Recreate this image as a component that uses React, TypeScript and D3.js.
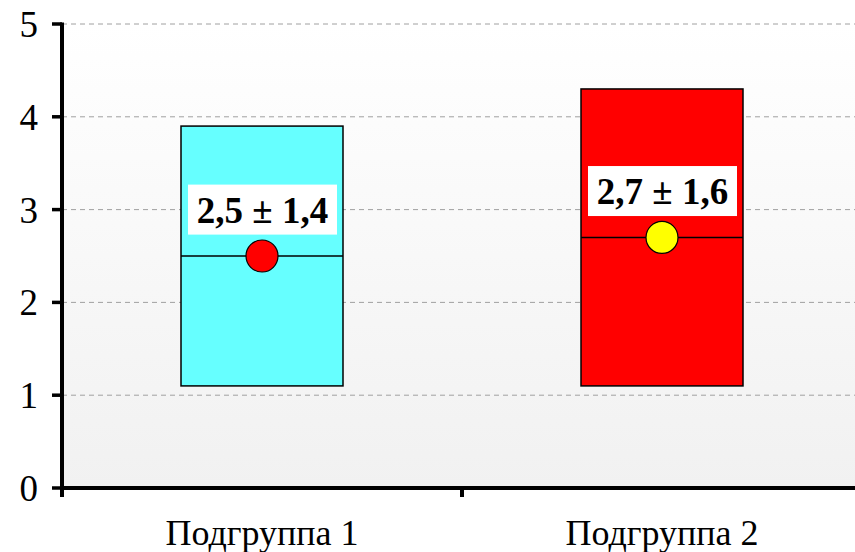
import React from "react";
import * as d3 from "d3";

// Subgroup summaries: mean ± standard deviation
const categories = ["Подгруппа 1", "Подгруппа 2"];
const means = [2.5, 2.7];
const deviations = [1.4, 1.6];
const boxColors = ["#66ffff", "#ff0000"];
const dotColors = ["#ff0000", "#ffff00"];
const yTicks = [0, 1, 2, 3, 4, 5];

const W = 855;
const H = 552;
const left = 62;
const right = 862;
const top = 24;
const bottom = 488;

const fmt = (v: number) => d3.format(".1f")(v).replace(".", ",");

export default function App() {
  const x = d3.scaleBand<string>().domain(categories).range([left, right]);
  const y = d3.scaleLinear().domain([0, 5]).range([bottom, top]);
  const boxW = x.bandwidth() * 0.405;
  const serif = "'Liberation Serif', 'Times New Roman', serif";

  return (
    <svg
      width={W}
      height={H}
      style={{ position: "absolute", left: 0, top: 0, fontFamily: serif }}
    >
      <defs>
        <linearGradient id="plotBg" x1="0" y1="0" x2="0" y2="1">
          <stop offset="0" stopColor="#ffffff" />
          <stop offset="1" stopColor="#f1f1f1" />
        </linearGradient>
      </defs>
      <rect x={left} y={top} width={right - left} height={bottom - top} fill="url(#plotBg)" />

      {/* horizontal grid */}
      {yTicks.slice(1).map((t) => (
        <line
          key={t}
          x1={left}
          x2={right}
          y1={y(t)}
          y2={y(t)}
          stroke="#a0a0a0"
          strokeWidth={1}
          strokeDasharray="5,4"
        />
      ))}

      {/* mean ± SD boxes */}
      {categories.map((c, i) => {
        const cx = (x(c) ?? 0) + x.bandwidth() / 2;
        const lo = means[i] - deviations[i];
        const hi = means[i] + deviations[i];
        const labelY = y(means[i] + 0.5);
        return (
          <g key={c}>
            <rect
              x={cx - boxW / 2}
              y={y(hi)}
              width={boxW}
              height={y(lo) - y(hi)}
              fill={boxColors[i]}
              stroke="#000"
              strokeWidth={1.5}
            />
            <line
              x1={cx - boxW / 2}
              x2={cx + boxW / 2}
              y1={y(means[i])}
              y2={y(means[i])}
              stroke="#000"
              strokeWidth={1.5}
            />
            <circle cx={cx} cy={y(means[i])} r={16} fill={dotColors[i]} stroke="#000" strokeWidth={1.2} />
            <rect x={cx - 74} y={labelY - 25} width={149} height={50} fill="#fff" />
            <text
              x={cx + 0.5}
              y={labelY}
              dy="0.35em"
              textAnchor="middle"
              style={{ fontSize: "37px", fontWeight: "bold" }}
            >
              {`${fmt(means[i])} ± ${fmt(deviations[i])}`}
            </text>
          </g>
        );
      })}

      {/* y axis */}
      <line x1={left} x2={left} y1={top - 1.5} y2={bottom + 9} stroke="#000" strokeWidth={4} />
      {yTicks.map((t) => (
        <g key={t}>
          <line x1={left - 10} x2={left} y1={y(t)} y2={y(t)} stroke="#000" strokeWidth={3.5} />
          <text x={38} y={y(t)} dy="0.35em" textAnchor="end" style={{ fontSize: "37px" }}>
            {t}
          </text>
        </g>
      ))}

      {/* x axis */}
      <line x1={left} x2={right} y1={bottom} y2={bottom} stroke="#000" strokeWidth={4} />
      {categories.slice(1).map((c) => (
        <line key={c} x1={x(c)} x2={x(c)} y1={bottom} y2={bottom + 9} stroke="#000" strokeWidth={4} />
      ))}
      {categories.map((c) => (
        <text
          key={c}
          x={(x(c) ?? 0) + x.bandwidth() / 2}
          y={545}
          textAnchor="middle"
          style={{ fontSize: "36px" }}
        >
          {c}
        </text>
      ))}
    </svg>
  );
}
